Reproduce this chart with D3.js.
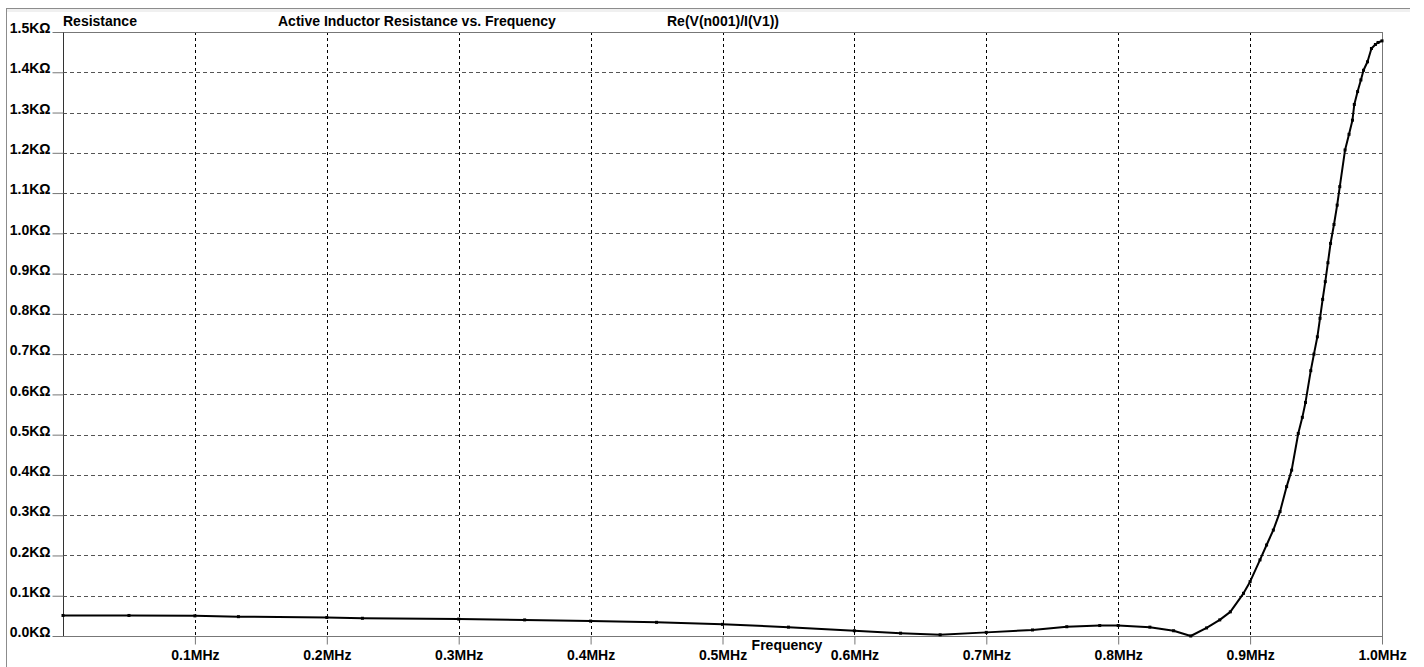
<!DOCTYPE html>
<html>
<head>
<meta charset="utf-8">
<script src="https://cdn.jsdelivr.net/npm/d3@7"></script>
<style>
  html, body { margin: 0; padding: 0; background: #fff; }
  svg { display: block; }
  text { font-family: "Liberation Sans", Arial, sans-serif; font-weight: bold; font-size: 14px; fill: #000; }
</style>
</head>
<body>
<div id="chart"></div>
<script>
// Active inductor: Re(V(n001)/I(V1)) vs frequency.
const freqMHz = [0, 0.05, 0.1, 0.133, 0.2, 0.227, 0.3, 0.35, 0.4, 0.45, 0.5, 0.55, 0.6, 0.635,
  0.665, 0.7, 0.735, 0.761, 0.786, 0.8, 0.824, 0.842, 0.855, 0.867, 0.877, 0.885, 0.895, 0.9,
  0.9075, 0.9125, 0.9176, 0.9227, 0.9277, 0.9315, 0.9365, 0.9396, 0.942, 0.946, 0.9484, 0.951,
  0.953, 0.955, 0.957, 0.959, 0.961, 0.9636, 0.966, 0.968, 0.972, 0.975, 0.9776, 0.979, 0.9815,
  0.984, 0.986, 0.989, 0.992, 0.995, 0.997, 1.0];
const resK = [0.051, 0.051, 0.050, 0.048, 0.046, 0.044, 0.042, 0.040, 0.037, 0.034, 0.029, 0.022,
  0.013, 0.007, 0.003, 0.009, 0.015, 0.023, 0.026, 0.026, 0.022, 0.013, 0.0, 0.020, 0.040, 0.060,
  0.106, 0.135, 0.189, 0.226, 0.263, 0.309, 0.371, 0.412, 0.503, 0.543, 0.580, 0.659, 0.700, 0.743,
  0.789, 0.836, 0.880, 0.927, 0.975, 1.022, 1.070, 1.116, 1.207, 1.246, 1.281, 1.320, 1.352, 1.381,
  1.405, 1.426, 1.459, 1.469, 1.474, 1.478];

const xTicks = [0.1, 0.2, 0.3, 0.4, 0.5, 0.6, 0.7, 0.8, 0.9, 1.0];
const yTicks = [0, 0.1, 0.2, 0.3, 0.4, 0.5, 0.6, 0.7, 0.8, 0.9, 1.0, 1.1, 1.2, 1.3, 1.4, 1.5];
const yLabel = "Resistance";
const title = "Active Inductor Resistance vs. Frequency";
const traceName = "Re(V(n001)/I(V1))";
const xLabel = "Frequency";

const W = 1424, H = 667;
const m = { l: 63, r: 42, t: 32, b: 31 };

const svg = d3.select("#chart").append("svg").attr("width", W).attr("height", H);

// window chrome
svg.append("rect").attr("x", 7).attr("y", 9).attr("width", 1403).attr("height", 3).attr("fill", "#f0f0f0");
svg.append("line").attr("x1", 6).attr("x2", 1410).attr("y1", 8.5).attr("y2", 8.5).attr("stroke", "#8c8c8c");
svg.append("line").attr("x1", 6.5).attr("x2", 6.5).attr("y1", 8).attr("y2", H).attr("stroke", "#8c8c8c");

const x = d3.scaleLinear().domain([0, 1.0]).range([m.l, W - m.r]);
const y = d3.scaleLinear().domain([0, 1.5]).range([H - m.b, m.t]);

// grid
svg.append("g").selectAll("line").data(yTicks.filter(d => d > 0 && d < 1.5)).join("line")
  .attr("x1", m.l).attr("x2", W - m.r)
  .attr("y1", d => Math.round(y(d)) + 0.5).attr("y2", d => Math.round(y(d)) + 0.5)
  .attr("stroke", "#555").attr("stroke-dasharray", "4,3");
svg.append("g").selectAll("line").data(xTicks.filter(d => d < 1.0)).join("line")
  .attr("x1", d => Math.round(x(d)) + 0.5).attr("x2", d => Math.round(x(d)) + 0.5)
  .attr("y1", m.t).attr("y2", H - m.b)
  .attr("stroke", "#000").attr("stroke-dasharray", "3,3");

// plot frame
svg.append("rect").attr("x", m.l + 0.5).attr("y", m.t + 0.5)
  .attr("width", W - m.r - m.l).attr("height", H - m.b - m.t)
  .attr("fill", "none").attr("stroke", "#777");
svg.append("line").attr("x1", m.l + 0.5).attr("x2", m.l + 0.5).attr("y1", m.t).attr("y2", H - m.b)
  .attr("stroke", "#333");

// y axis: short ticks + labels on the left
const yAxis = d3.axisLeft(y).tickValues(yTicks).tickSize(11).tickPadding(2)
  .tickFormat(d => d3.format(".1f")(d) + "K\u03a9");
const gy = svg.append("g").attr("transform", `translate(${m.l + 0.5},0)`).call(yAxis);
gy.select(".domain").remove();
gy.selectAll(".tick line").attr("stroke", "#777");
gy.selectAll(".tick text").attr("dy", "0.05em").style("font-size", "14px");

// x axis: ticks below the frame
const xAxis = d3.axisBottom(x).tickValues(xTicks).tickSize(8).tickPadding(6)
  .tickFormat(d => d3.format(".1f")(d) + "MHz");
const gx = svg.append("g").attr("transform", `translate(0,${H - m.b + 0.5})`).call(xAxis);
gx.select(".domain").remove();
gx.selectAll(".tick line").attr("stroke", "#777");
gx.selectAll(".tick text").style("font-size", "14px");

// header texts
svg.append("text").attr("x", m.l).attr("y", 26).text(yLabel);
svg.append("text").attr("x", 278).attr("y", 26).text(title);
svg.append("text").attr("x", 667).attr("y", 26).text(traceName);
svg.append("text").attr("x", 787).attr("y", 650).attr("text-anchor", "middle").text(xLabel);

// trace
const line = d3.line().x((d, i) => x(freqMHz[i])).y(d => y(d));
svg.append("path").datum(resK).attr("d", line)
  .attr("fill", "none").attr("stroke", "#000").attr("stroke-width", 2).attr("stroke-linejoin", "round");
svg.append("g").selectAll("rect").data(resK).join("rect")
  .attr("x", (d, i) => x(freqMHz[i]) - 1.5).attr("y", d => y(d) - 1.5)
  .attr("width", 3).attr("height", 3).attr("fill", "#000");
</script>
</body>
</html>
